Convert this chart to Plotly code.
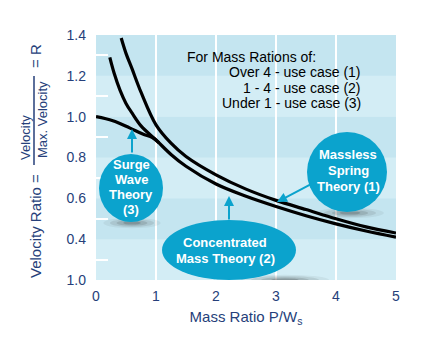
import plotly.graph_objects as go

# ---- data ----
spring_x = [0.42, 0.5, 0.6, 0.75, 1.0, 1.25, 1.5, 2.0, 2.5, 3.0, 3.5, 4.0, 4.5, 5.0]
spring_y = [1.385, 1.31, 1.235, 1.12, 0.96, 0.87, 0.805, 0.715, 0.645, 0.59, 0.545, 0.50, 0.46, 0.43]

conc_x = [0.23, 0.3, 0.4, 0.5, 0.6, 0.75, 1.0, 1.25, 1.5, 2.0, 2.5, 3.0, 3.5, 4.0, 4.5, 5.0]
conc_y = [1.29, 1.215, 1.13, 1.065, 1.018, 0.955, 0.886, 0.815, 0.757, 0.67, 0.61, 0.56, 0.515, 0.475, 0.44, 0.41]

surge_x = [0.0, 0.28, 0.56, 0.78, 0.94, 1.05]
surge_y = [1.0, 0.98, 0.945, 0.915, 0.898, 0.872]

y_tickvals = [0.2, 0.4, 0.6, 0.8, 1.0, 1.2, 1.4]
y_ticktext = ["1.0", "0.4", "0.6", "0.8", "1.0", "1.2", "1.4"]
x_tickvals = [0, 1, 2, 3, 4, 5]
y_minor = [0.3, 0.5, 0.7, 0.9, 1.1, 1.3]
band_edges = [0.2, 0.4, 0.6, 0.8, 1.0, 1.2, 1.4]

W, H = 432, 353
L, R, T, B = 96, 36, 35, 73
XMIN, XMAX, YMIN, YMAX = 0, 5, 0.2, 1.4
pw, ph = W - L - R, H - T - B

def X(px):
    return XMIN + (px - L) / pw * (XMAX - XMIN)

def Y(py):
    return YMAX - (py - T) / ph * (YMAX - YMIN)

def PX(px):
    return (px - L) / pw

def PY(py):
    return 1 - (py - T) / ph

NAVY = "#263f7a"
BUB = "#0ba3cd"
FONT = "Liberation Sans, Arial, sans-serif"

fig = go.Figure()
for xs, ys in [(surge_x, surge_y), (conc_x, conc_y), (spring_x, spring_y)]:
    fig.add_trace(go.Scatter(x=xs, y=ys, mode="lines", line=dict(color="black", width=3.2, shape="spline"),
                             hoverinfo="skip", showlegend=False))

shapes = []
# bands
for i in range(len(band_edges) - 1):
    shapes.append(dict(type="rect", xref="x", yref="y", x0=XMIN, x1=XMAX,
                       y0=band_edges[i], y1=band_edges[i + 1], line=dict(width=0),
                       fillcolor="#d3edf5" if i % 2 == 0 else "#c4e5f0", layer="below"))

def ellipse(x0, y0, x1, y1, color, layer="above"):
    shapes.append(dict(type="circle", xref="x", yref="y", x0=X(x0), x1=X(x1), y0=Y(y1), y1=Y(y0),
                       line=dict(width=0), fillcolor=color, layer=layer))

# shadows (soft)
for (cx, cy, rx, ry) in [(132, 223, 22, 4), (350, 213, 26, 4), (285, 280, 34, 4)]:
    for k, a in [(1.3, 0.06), (1.0, 0.1), (0.7, 0.14), (0.4, 0.2)]:
        ellipse(cx - rx * k, cy - ry * k, cx + rx * k, cy + ry * k, f"rgba(40,40,40,{a})", layer="between")

# bubbles
ellipse(99, 154, 163, 222, BUB)
ellipse(162, 220, 296, 280, BUB)
ellipse(307, 132, 387, 212, BUB)

annotations = []
def txt(px, py, text, size=14, color="black", bold=False, xanchor="center"):
    annotations.append(dict(x=X(px), y=Y(py), xref="x", yref="y", text=f"<b>{text}</b>" if bold else text,
                            showarrow=False, xanchor=xanchor, yanchor="middle",
                            font=dict(family=FONT, size=size, color=color)))

def arrow(hx, hy, tx, ty):
    annotations.append(dict(x=X(hx), y=Y(hy), ax=X(tx), ay=Y(ty), xref="x", yref="y", axref="x", ayref="y",
                            text="", showarrow=True, arrowhead=2, arrowsize=1, arrowwidth=2, arrowcolor=BUB))

# legend text
txt(185, 57, "For Mass Rations of:", xanchor="left")
txt(363, 72, "Over 4 - use case (1)", xanchor="right")
txt(363, 88, "1 - 4 - use case (2)", xanchor="right")
txt(363, 103, "Under 1 - use case (3)", xanchor="right")

# bubble texts
for i, s in enumerate(["Surge", "Wave", "Theory", "(3)"]):
    txt(131, 164 + i * 15.3, s, size=13, color="white", bold=True)
txt(225, 242, "Concentrated", size=13, color="white", bold=True)
txt(225, 258, "Mass Theory (2)", size=13, color="white", bold=True)
for i, s in enumerate(["Massless", "Spring", "Theory (1)"]):
    txt(348, 154 + i * 16, s, size=13, color="white", bold=True)

arrow(132, 129, 132, 154)
arrow(229, 196, 229, 221)
arrow(277, 202, 313, 183)

# y-axis title with fraction
def ptxt(px, py, text, size):
    annotations.append(dict(x=PX(px), y=PY(py), xref="paper", yref="paper", text=text, showarrow=False,
                            xanchor="center", yanchor="middle", textangle=-90,
                            font=dict(family=FONT, size=size, color=NAVY)))

ptxt(35, 226, "Velocity Ratio =", 15)
ptxt(25, 138, "Velocity", 13)
ptxt(43, 120, "Max. Velocity", 13)
ptxt(35, 56, "= R", 15)
shapes.append(dict(type="line", xref="paper", yref="paper", x0=PX(34), x1=PX(34), y0=PY(76), y1=PY(165),
                   line=dict(color=NAVY, width=1.5)))

fig.update_layout(
    width=W, height=H, margin=dict(l=L, r=R, t=T, b=B),
    paper_bgcolor="white", plot_bgcolor="#d3edf5",
    font=dict(family=FONT, size=14, color=NAVY),
    shapes=shapes, annotations=annotations, showlegend=False,
    xaxis=dict(range=[XMIN, XMAX], tickvals=x_tickvals, showgrid=True, gridcolor="white", gridwidth=1.5,
               zeroline=False, showline=False, ticks="", ticklabelstandoff=6,
               tickfont=dict(size=14, color=NAVY),
               title=dict(text="Mass Ratio P/W<sub>s</sub>", font=dict(size=15, color=NAVY), standoff=8)),
    yaxis=dict(range=[YMIN, YMAX], tickvals=y_tickvals, ticktext=y_ticktext, showgrid=False,
               zeroline=False, showline=False, ticks="", ticklabelstandoff=9,
               tickfont=dict(size=14, color=NAVY),
               minor=dict(tickvals=y_minor, ticks="inside", ticklen=12, tickcolor="white", tickwidth=2, showgrid=False)),
)

fig.write_html("out.html")
